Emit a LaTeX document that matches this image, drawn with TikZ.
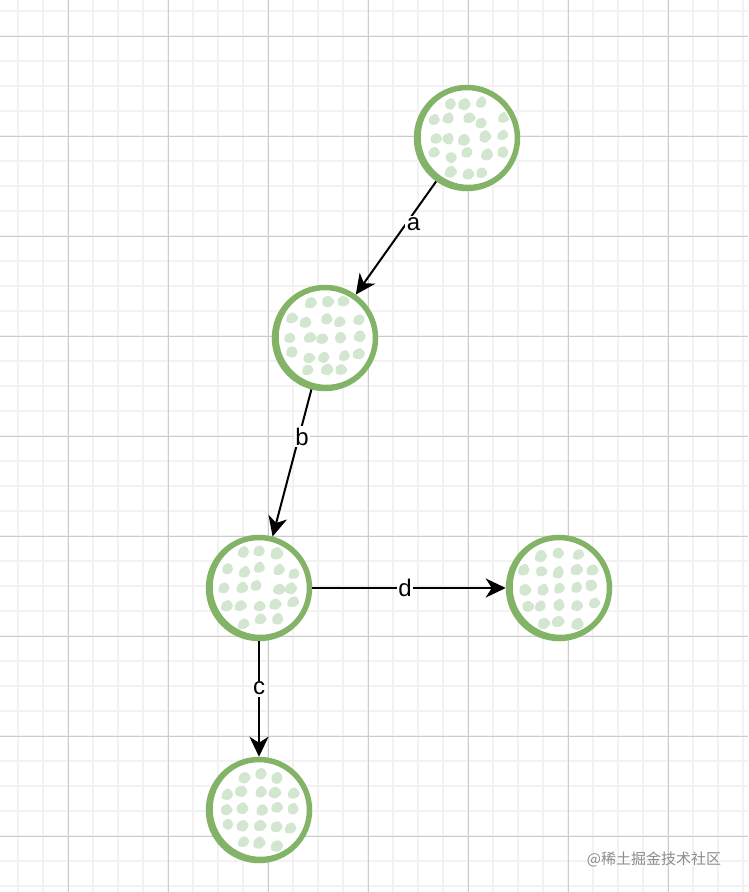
\documentclass[tikz,border=0pt]{standalone}
\usepackage{fontspec}
\setmainfont{Liberation Sans}
\newfontfamily\cjk{Noto Sans CJK SC}
\usetikzlibrary{arrows.meta,calc}
\definecolor{ringc}{HTML}{82B366}
\definecolor{blobc}{HTML}{D2E6D0}
\tikzset{
  ball/.style={circle, draw=ringc, line width=5.5pt, fill=white, minimum size=101pt, inner sep=0pt},
  blob/.style={fill=blobc, rounded corners=2.5pt},
  lbl/.style={fill=white, inner sep=1.5pt, font=\fontsize{24}{24}\selectfont},
  arr/.style={line width=2pt, -{Stealth[length=20pt, width=19pt, inset=6pt]}}
}
\begin{document}
\begin{tikzpicture}[x=1pt, y=-1pt]
			\useasboundingbox (0,0) rectangle (748,892);
			\fill[white] (0,0) rectangle (748,892);
			\foreach \x in {18,43,...,743} \draw[black!5, line width=1.5pt] (\x,0)--(\x,892);
			\foreach \y in {11,36,...,886} \draw[black!5, line width=1.5pt] (0,\y)--(748,\y);
			\foreach \x in {68,168,...,668} \draw[black!20, line width=1pt] (\x,0)--(\x,892);
			\foreach \y in {36,136,...,836} \draw[black!20, line width=1pt] (0,\y)--(748,\y);
			% the five balls
			\node[ball] (top) at (467,138) {};
			\node[ball] (mid) at (325,338) {};
			\node[ball] (left) at (259,588) {};
			\node[ball] (right) at (559,588) {};
			\node[ball] (bottom) at (259,810) {};
			\pgfmathsetseed{11}
			\foreach \n in {top,mid,left,right,bottom}{
				\begin{scope}
					\clip (\n) circle (46);
					\foreach \i in {-2,...,2} \foreach \j in {-2,...,2}{
						\pgfmathtruncatemacro\d{\i*\i+\j*\j}
						\ifnum\d<6 \fill[blob] ($(\n)+(\i*17+3*rand,\j*17+3*rand)$) +(0:6+2*rnd) -- +(72:5+2*rnd) -- +(144:6+2*rnd) -- +(216:5+2*rnd) -- +(288:6+2*rnd) -- cycle; \fi
					}
				\end{scope}
				\draw[ringc, line width=2.5pt] ($(\n)+(1.5,-1)$) circle (49);
			}
			\draw[arr] (top) -- node[lbl, pos=.38, xshift=8pt]{a} (mid);
			\draw[arr] (mid) -- node[lbl, pos=.32, xshift=3pt]{b} (left);
			\draw[arr] (left) -- node[lbl, pos=.41]{c} (bottom);
			\draw[arr] (left) -- node[lbl, pos=.48]{d} (right);
			\node[black!45, font=\fontsize{15}{15}\selectfont] (mark) at (654,859) {\cjk @稀土掘金技术社区};
		\end{tikzpicture}
\end{document}
